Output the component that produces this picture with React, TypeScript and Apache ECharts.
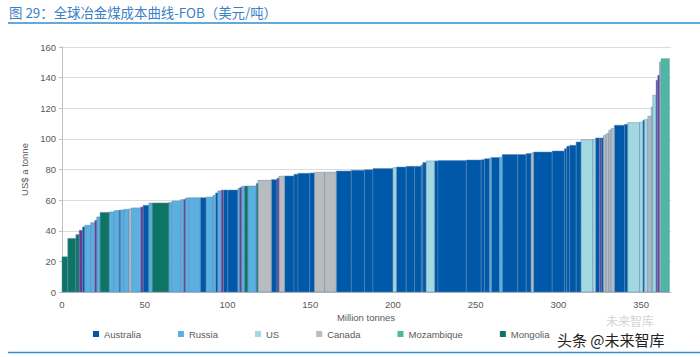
import React, { useEffect, useRef } from "react";
import * as echarts from "echarts";

// Cost curve segments (in order along the x axis)
const segWidths = [
  3.5, 4.9, 2.0, 2.0, 1.4, 3.6, 2.4, 1.2, 2.0, 5.5,
  3.0, 3.0, 1.0, 2.0, 3.0, 1.5, 5.6, 1.4, 3.5, 2.0,
  10.1, 2.0, 5.0, 2.0, 1.0, 2.0, 6.9, 3.7, 4.0, 1.6,
  1.4, 2.0, 1.4, 2.6, 6.1, 1.0, 1.2, 1.8, 2.0, 5.1,
  1.0, 8.1, 3.4, 1.2, 3.4, 5.7, 2.4, 7.0, 3.0, 6.1,
  7.0, 9.1, 8.0, 5.1, 12.1, 2.0, 6.0, 5.0, 4.1, 0.9,
  2.1, 5.0, 2.1, 17.1, 9.0, 2.0, 3.1, 1.0, 5.0, 1.6,
  9.4, 5.1, 3.0, 1.4, 11.3, 7.4, 1.4, 1.7, 4.0, 3.0,
  7.1, 1.6, 2.4, 1.0, 1.4, 1.6, 1.6, 1.4, 2.0, 6.1,
  2.0, 7.1, 2.0, 1.0, 2.0, 2.0, 1.0, 2.0, 1.0, 1.0,
  1.0, 5.0,
];
const segCosts = [
  23, 35, 37.5, 40.3, 42.5, 43.6, 45.3, 46.8, 49, 52,
  52.3, 53.2, 53.4, 53.6, 54, 54.3, 54.9, 55.5, 56.6, 58.1,
  58.2, 58.5, 59.4, 60.3, 60.5, 61.4, 61.6, 61.6, 62, 63.1,
  64.7, 66, 66.6, 66.6, 66.6, 67.5, 68.2, 69, 69.2, 69.2,
  70.8, 72.9, 73.4, 74.3, 75.6, 75.8, 76.9, 77.5, 77.7, 78.2,
  78.2, 79, 79.5, 79.9, 80.6, 81.2, 81.6, 82.1, 82.1, 83,
  84.5, 85.6, 85.6, 85.8, 86.2, 86.4, 87.1, 87.5, 87.8, 88,
  89.8, 89.8, 90.4, 90.8, 91.4, 92.1, 93.6, 95.2, 95.8, 98,
  99.5, 99.6, 100.6, 100.6, 100.6, 102.3, 103.4, 105.6, 106.7, 108.9,
  109.5, 110.6, 110.8, 112.1, 112.6, 114.8, 120.8, 128.5, 138.3, 141.5,
  150.2, 152.4,
];
const segCountry = [
  "Mongolia", "Mongolia", "Mongolia", "Other", "Australia", "Russia", "Russia", "Other", "Russia", "Mongolia",
  "Russia", "Russia", "Australia", "Russia", "Russia", "Canada", "Russia", "Other", "Australia", "Russia",
  "Mongolia", "Russia", "Russia", "Russia", "Other", "Russia", "Russia", "Australia", "Russia", "Russia",
  "Australia", "Russia", "Other", "Australia", "Australia", "Russia", "Other", "Russia", "Mongolia", "Russia",
  "Mongolia", "Canada", "Australia", "Other", "Canada", "Australia", "Australia", "Australia", "Australia", "Canada",
  "Canada", "Australia", "Australia", "Australia", "Australia", "US", "Australia", "Australia", "Australia", "Australia",
  "Australia", "US", "Australia", "Australia", "Australia", "Australia", "Australia", "Russia", "Australia", "Russia",
  "Australia", "Australia", "Australia", "Canada", "Australia", "Australia", "Australia", "Australia", "Australia", "Australia",
  "US", "US", "Australia", "Other", "Australia", "Canada", "Canada", "Canada", "Canada", "Australia",
  "Australia", "US", "US", "Australia", "US", "Canada", "US", "US", "Other", "Other",
  "Canada", "Mozambique",
];

const legendNames = ["Australia", "Russia", "US", "Canada", "Mozambique", "Mongolia"];
const countryColors: Record<string, string> = {
  Australia: "#0058A9",
  Russia: "#5AB1E1",
  US: "#A2D9E1",
  Canada: "#B9BCBF",
  Mozambique: "#4DB8A1",
  Mongolia: "#0E7564",
  Other: "#6A3B8D",
};

const yTicks = { min: 0, max: 160, interval: 20 };
const xTicks = { min: 0, max: 368, interval: 50 };

export default function App() {
  const ref = useRef<HTMLDivElement>(null);
  useEffect(() => {
    if (!ref.current) return;
    const chart = echarts.init(ref.current, null, { renderer: "svg" });

    const byCountry: Record<string, number[][]> = {};
    let cum = 0;
    segWidths.forEach((w, i) => {
      const c = segCountry[i];
      if (!byCountry[c]) byCountry[c] = [];
      byCountry[c].push([cum, cum + w, segCosts[i]]);
      cum += w;
    });

    const names = [...legendNames, "Other"];
    const series = names.map((name) => ({
      name,
      type: "custom",
      itemStyle: { color: countryColors[name] },
      encode: { x: [0, 1], y: 2 },
      data: byCountry[name] || [],
      renderItem: (params: any, api: any) => {
        const p0 = api.coord([api.value(0), api.value(2)]);
        const p1 = api.coord([api.value(1), 0]);
        return {
          type: "rect",
          shape: { x: p0[0], y: p0[1], width: p1[0] - p0[0], height: p1[1] - p0[1] },
          style: { fill: countryColors[name], stroke: "#6189b3", lineWidth: 0.5 },
        };
      },
    }));

    const font = "Liberation Sans, Arial, sans-serif";
    chart.setOption({
      animation: false,
      grid: { left: 62, right: 29, top: 47, bottom: 65 },
      xAxis: {
        type: "value",
        min: xTicks.min,
        max: xTicks.max,
        interval: xTicks.interval,
        axisLine: { show: true, lineStyle: { color: "#BFBFBF" } },
        axisTick: { show: false },
        splitLine: { show: false },
        axisLabel: {
          showMaxLabel: false,
          margin: 7,
          fontSize: 9.5,
          color: "#595959",
          fontFamily: font,
          formatter: (v: number) => (v % 50 === 0 ? String(v) : ""),
        },
      },
      yAxis: {
        type: "value",
        min: yTicks.min,
        max: yTicks.max,
        interval: yTicks.interval,
        name: "US$ a tonne",
        nameLocation: "middle",
        nameGap: 23,
        nameTextStyle: { fontSize: 9.5, color: "#595959", fontFamily: font },
        axisLine: { show: true, lineStyle: { color: "#BFBFBF" } },
        axisTick: { show: true, length: 3, lineStyle: { color: "#BFBFBF" } },
        splitLine: { show: true, lineStyle: { color: "#DCDCDC" } },
        axisLabel: { margin: 6, fontSize: 9.5, color: "#595959", fontFamily: font },
      },
      legend: {
        data: legendNames,
        left: 93,
        top: 329,
        icon: "rect",
        itemWidth: 6,
        itemHeight: 6,
        itemGap: 37,
        padding: 0,
        textStyle: { fontSize: 9.5, color: "#595959", fontFamily: font },
      },
      graphic: [
        {
          type: "text",
          left: 9,
          top: 5,
          style: {
            text: "图 29：全球冶金煤成本曲线-FOB（美元/吨）",
            fill: "#3A80C6",
            font: "13.4px 'Noto Sans CJK SC', sans-serif",
          },
        },
        {
          type: "line",
          shape: { x1: 8, y1: 23, x2: 700, y2: 23 },
          style: { stroke: "#2F8DD3", lineWidth: 1.5 },
        },
        {
          type: "line",
          shape: { x1: 8, y1: 352.5, x2: 700, y2: 352.5 },
          style: { stroke: "#2F8DD3", lineWidth: 1.5 },
        },
        {
          type: "text",
          x: 366,
          y: 317,
          style: {
            text: "Million tonnes",
            fill: "#595959",
            font: "9.5px 'Liberation Sans', Arial, sans-serif",
            align: "center",
            verticalAlign: "middle",
          },
        },
        {
          type: "text",
          x: 606,
          y: 320,
          style: {
            text: "未来智库",
            fill: "#D4D4D4",
            font: "12px 'Noto Sans CJK SC', sans-serif",
            verticalAlign: "middle",
          },
        },
        {
          type: "text",
          x: 557,
          y: 339,
          style: {
            text: "头条 @未来智库",
            fill: "#222222",
            font: "15px 'Noto Sans CJK SC', sans-serif",
            verticalAlign: "middle",
          },
        },
      ],
      series,
    });
    return () => chart.dispose();
  }, []);
  return (
    <div
      ref={ref}
      style={{ position: "fixed", left: 0, top: 0, width: 700, height: 357, background: "#fff" }}
    />
  );
}
